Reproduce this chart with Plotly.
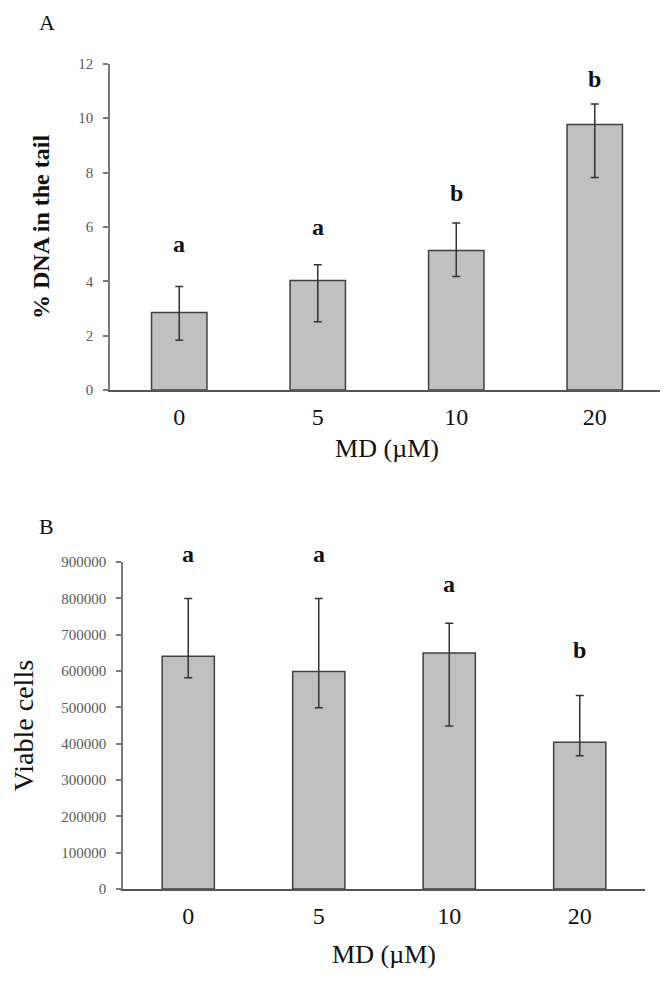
import plotly.graph_objects as go
from plotly.subplots import make_subplots

categories = ["0", "5", "10", "20"]

# Panel A: % DNA in the tail
dna_mean = [2.85, 4.03, 5.13, 9.77]
dna_upper = [3.81, 4.61, 6.15, 10.52]
dna_lower = [1.83, 2.51, 4.18, 7.82]
dna_letters = ["a", "a", "b", "b"]
dna_letter_y = [5.37, 5.98, 7.24, 11.46]

# Panel B: viable cells
cells_mean = [641000, 599000, 650000, 404000]
cells_upper = [800000, 800000, 732000, 533000]
cells_lower = [582000, 499000, 449000, 367000]
cells_letters = ["a", "a", "a", "b"]
cells_letter_y = [923000, 923000, 839000, 657000]

DNA_MAX = 12
CELLS_MAX = 900000

# page body has an 8px margin; figure placed so screenshot coords match
OFF = 8
W, H = 668 - OFF, 984 - 2 * OFF
SERIF = "Liberation Serif, Times New Roman, serif"


def px_x(x):
    return (x - OFF) / W


def px_y(y):
    return 1 - (y - OFF) / H


fig = make_subplots(rows=2, cols=1)


def add_panel(row, mean, upper, lower):
    fig.add_trace(go.Bar(
        x=categories, y=mean, width=0.4,
        marker=dict(color="#c0c0c0", line=dict(color="#404040", width=1.5)),
        error_y=dict(type="data", symmetric=False,
                     array=[u - m for u, m in zip(upper, mean)],
                     arrayminus=[m - l for m, l in zip(mean, lower)],
                     color="#333333", thickness=1.5, width=4),
        showlegend=False,
    ), row=row, col=1)


add_panel(1, dna_mean, dna_upper, dna_lower)
add_panel(2, cells_mean, cells_upper, cells_lower)

xa = dict(type="category", range=[-0.5, 3.5], showline=True, linecolor="#555555",
          linewidth=2, ticks="outside", tickcolor="rgba(0,0,0,0)", ticklen=4,
          tickfont=dict(family=SERIF, size=24, color="#111111"),
          showgrid=False, zeroline=False)
ya = dict(showline=True, linecolor="#7a7a7a", linewidth=1.5, ticks="outside",
          ticklen=5, tickcolor="#7a7a7a", tickwidth=1.5, ticklabelstandoff=7,
          tickfont=dict(family=SERIF, size=15, color="#595959"),
          showgrid=False, zeroline=False)

fig.update_xaxes(**xa)
fig.update_yaxes(**ya)

fig.update_layout(
    width=W, height=H, margin=dict(l=0, r=0, t=0, b=0),
    paper_bgcolor="white", plot_bgcolor="white",
    xaxis=dict(domain=[px_x(110), px_x(664)],
               title=dict(text="MD (µM)", font=dict(family=SERIF, size=26, color="#111111"),
                          standoff=10)),
    yaxis=dict(domain=[px_y(388.3), px_y(56.7)], range=[0, DNA_MAX], dtick=2,
               title=dict(text="<b>% DNA in the tail</b>",
                          font=dict(family=SERIF, size=24, color="#111111"), standoff=22)),
    xaxis2=dict(domain=[px_x(123), px_x(645)],
                title=dict(text="MD (µM)", font=dict(family=SERIF, size=26, color="#111111"),
                           standoff=17)),
    yaxis2=dict(domain=[px_y(895.7), px_y(563.3)], range=[0, CELLS_MAX], dtick=100000,
                tickformat="d",
                title=dict(text="Viable cells",
                           font=dict(family=SERIF, size=28, color="#111111"), standoff=22)),
)

for i, (lab, yv) in enumerate(zip(dna_letters, dna_letter_y)):
    fig.add_annotation(x=i, y=yv / DNA_MAX, xref="x", yref="y domain", text="<b>" + lab + "</b>",
                       showarrow=False, yanchor="middle", xanchor="center",
                       font=dict(family=SERIF, size=24, color="#111111"))
for i, (lab, yv) in enumerate(zip(cells_letters, cells_letter_y)):
    fig.add_annotation(x=i, y=yv / CELLS_MAX, xref="x2", yref="y2 domain", text="<b>" + lab + "</b>",
                       showarrow=False, yanchor="middle", xanchor="center",
                       font=dict(family=SERIF, size=24, color="#111111"))

fig.add_annotation(x=px_x(47), y=px_y(15), xref="paper", yref="paper", text="A",
                   showarrow=False, xanchor="center", yanchor="middle",
                   font=dict(family=SERIF, size=22, color="#111111"))
fig.add_annotation(x=px_x(46), y=px_y(527), xref="paper", yref="paper", text="B",
                   showarrow=False, xanchor="center", yanchor="middle",
                   font=dict(family=SERIF, size=22, color="#111111"))

fig.write_html("out.html")
